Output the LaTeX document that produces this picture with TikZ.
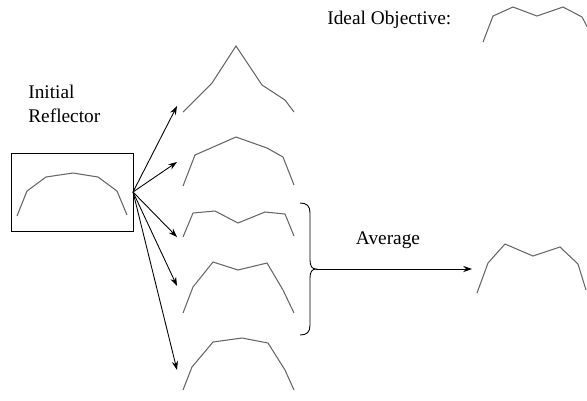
\documentclass[tikz,border=0pt]{standalone}
\usepackage{fontspec}
\setmainfont{Liberation Serif}
\usetikzlibrary{arrows.meta}

\tikzset{
  shape line/.style={draw=black!60, line width=0.6pt, line join=miter},
  fan arrow/.style={draw, line width=0.5pt, -{Stealth[length=5pt,width=3.5pt]}},
  label text/.style={font=\fontsize{11}{13.5}\selectfont, inner sep=0pt}
}

\begin{document}
\begin{tikzpicture}[x=0.02cm, y=-0.02cm]
   \useasboundingbox (0,0) rectangle (587,400);
   % texts
   \node[label text, align=left, anchor=west] (init) at (28,104) {Initial\\Reflector};
   \node[label text, anchor=west] (ideal) at (327,20) {Ideal Objective:};
   \node[label text] (avg) at (388,240) {Average};
   % initial reflector
   \draw (11,153) rectangle (133,231);
   \coordinate (src) at (133,192);
   \draw[shape line] (17,216) -- (27,191) -- (46,177) -- (73,173) -- (98,177) -- (117,191) -- (127,215);
   % arrows to the trial shapes
   \coordinate (t1) at (177,106);
   \coordinate (t2) at (177,162);
   \coordinate (t3) at (177,237);
   \coordinate (t4) at (177,286);
   \coordinate (t5) at (177,370);
   \foreach \t in {t1,t2,t3,t4,t5}
     \draw[fan arrow] (src) -- (\t);
   % trial shapes
   \draw[shape line] (183,112) -- (212,83) -- (236,46) -- (262,85) -- (285,100) -- (294,112);
   \draw[shape line] (183,186) -- (195,155) -- (236,137) -- (267,148) -- (283,157) -- (294,185);
   \draw[shape line] (183,237) -- (193,213) -- (215,211) -- (238,223) -- (265,212) -- (285,214) -- (294,236);
   \draw[shape line] (183,313) -- (193,287) -- (213,262) -- (238,270) -- (267,263) -- (283,290) -- (294,313);
   \draw[shape line] (183,390) -- (192,367) -- (213,342) -- (242,338) -- (268,343) -- (285,370) -- (294,390);
   % brace
   \coordinate (tip) at (316,269);
   \draw[line width=0.5pt] (300,203) .. controls (307,203) and (310,206) .. (310,213)
     -- (310,260) .. controls (310,266) and (312,269) .. (tip)
     .. controls (312,269) and (310,272) .. (310,278)
     -- (310,325) .. controls (310,332) and (307,335) .. (300,335);
   \coordinate (res) at (472,269);
   \draw[fan arrow] (tip) -- (res);
   % averaged shape
   \draw[shape line] (477,293) -- (488,263) -- (505,244) -- (533,256) -- (560,247) -- (578,264) -- (586,290);
   % ideal shape
   \draw[shape line] (483,42) -- (493,16) -- (513,7) -- (537,16) -- (563,7) -- (582,17) -- (590,32);
\end{tikzpicture}
\end{document}
